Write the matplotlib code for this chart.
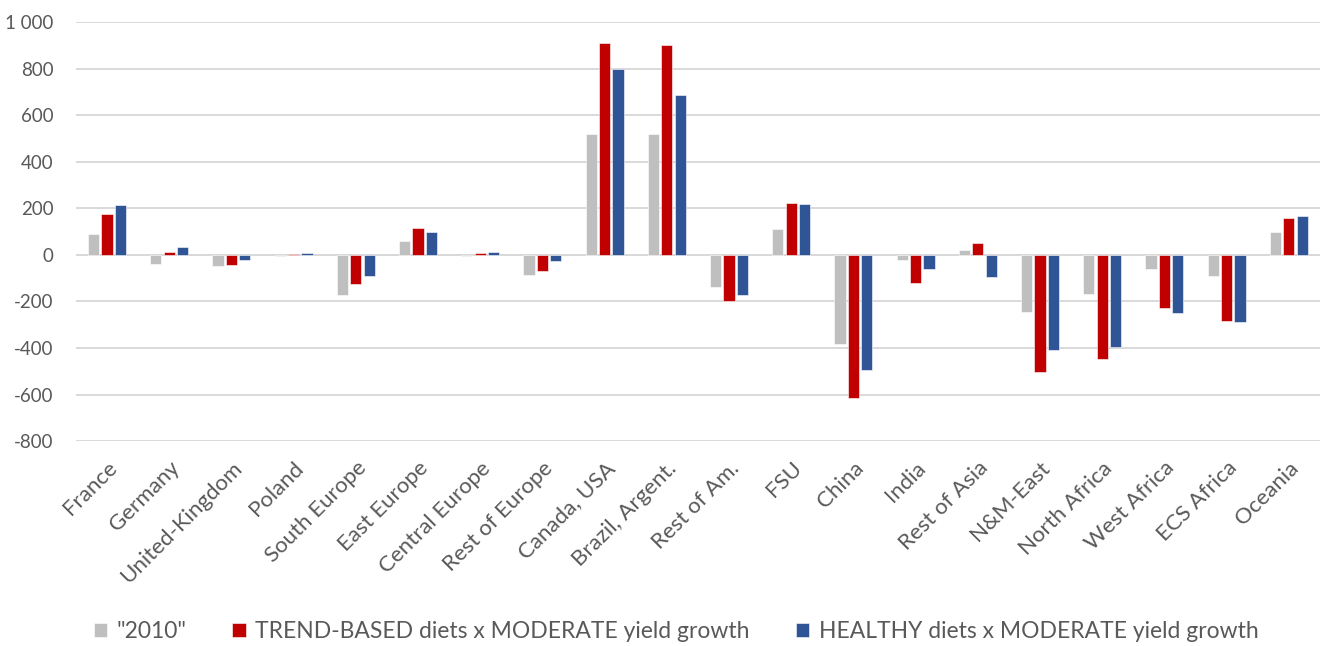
import numpy as np
import matplotlib
matplotlib.use("Agg")
import matplotlib.pyplot as plt
from matplotlib.ticker import FuncFormatter

regions = ["France", "Germany", "United-Kingdom", "Poland", "South Europe",
           "East Europe", "Central Europe", "Rest of Europe", "Canada, USA",
           "Brazil, Argent.", "Rest of Am.", "FSU", "China", "India",
           "Rest of Asia", "N&M-East", "North Africa", "West Africa",
           "ECS Africa", "Oceania"]

base_2010 = [89, -40, -46, -5, -172, 59, -5, -87, 518, 521,
             -140, 110, -383, -21, 21, -247, -167, -60, -89, 99]
trend_moderate = [177, 13, -44, 5, -126, 114, 7, -70, 911, 900,
                  -200, 223, -614, -120, 50, -504, -449, -230, -284, 160]
healthy_moderate = [213, 33, -21, 10, -89, 97, 12, -25, 800, 687,
                    -174, 219, -494, -61, -97, -410, -394, -250, -289, 167]

series = [
    ('"2010"', base_2010, "#bfbfbf"),
    ("TREND-BASED diets x MODERATE yield growth", trend_moderate, "#c00000"),
    ("HEALTHY diets x MODERATE yield growth", healthy_moderate, "#2f5597"),
]

plt.rcParams["font.family"] = ["Lato", "DejaVu Sans"]

fig = plt.figure(figsize=(13.23, 6.46), dpi=100)
ax = fig.add_axes([0.0574, 0.317, 0.9403, 0.649])

x = np.arange(len(regions))
w = 0.18
for k, (name, vals, col) in enumerate(series):
    ax.bar(x + (k - 1) * 0.215, vals, width=w, color=col, label=name,
           edgecolor="white", linewidth=0.4, zorder=3)

ax.set_xlim(-0.5, len(regions) - 0.5)
ax.set_ylim(-800, 1000)
ax.set_yticks(np.arange(-800, 1001, 200))
ax.yaxis.set_major_formatter(FuncFormatter(lambda v, _: f"{int(v):,}".replace(",", " ")))
ax.grid(axis="y", color="#d9d9d9", lw=1.4, zorder=0)
ax.axhline(0, color="#d9d9d9", lw=1.4, zorder=1)
for s in ax.spines.values():
    s.set_visible(False)
ax.tick_params(axis="both", length=0, colors="#595959", labelsize=13.5)
ax.tick_params(axis="y", pad=16)

ax.set_xticks(x)
ax.set_xticklabels(regions, rotation=45, ha="right", rotation_mode="anchor",
                   fontsize=16, color="#595959")
ax.tick_params(axis="x", pad=12)

leg = fig.legend(loc="center", bbox_to_anchor=(0.511, 0.022), ncol=3, frameon=False,
                 fontsize=16.5, handlelength=0.6, handleheight=0.6,
                 handletextpad=0.4, columnspacing=2.0)
for t in leg.get_texts():
    t.set_color("#595959")

fig.savefig("out.png", dpi=100, facecolor="white")
